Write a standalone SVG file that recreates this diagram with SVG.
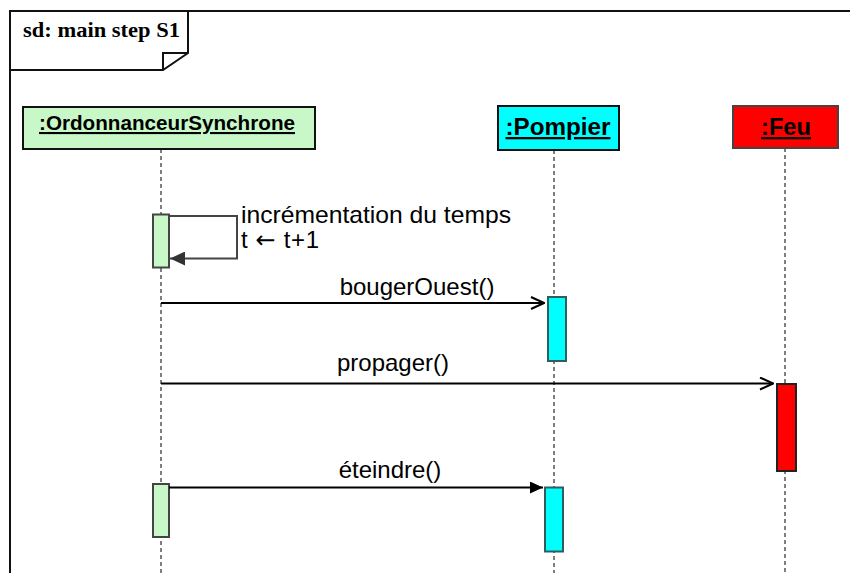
<svg xmlns="http://www.w3.org/2000/svg" width="850" height="573" viewBox="0 0 850 573">
<defs>
<style>
.frame{fill:none;stroke:#111;stroke-width:2}
.lbl{font-family:"Liberation Sans",Arial,sans-serif;font-weight:bold;text-decoration:underline;text-anchor:middle;fill:#000}
.msg{font-family:"Liberation Sans",Arial,sans-serif;font-size:24px;fill:#000}
.life{stroke:#555;stroke-width:1.5;stroke-dasharray:4 3;fill:none}
.act{stroke:#444;stroke-width:2}
.call{stroke:#000;stroke-width:2;fill:none}
</style>
<marker id="open" markerWidth="16" markerHeight="14" refX="15" refY="7" orient="auto" markerUnits="userSpaceOnUse">
<path d="M2,1 L15,7 L2,13" fill="none" stroke="#000" stroke-width="2"/>
</marker>
<marker id="filled" markerWidth="14" markerHeight="12" refX="13" refY="6" orient="auto" markerUnits="userSpaceOnUse">
<path d="M0,0 L13,6 L0,12 Z" fill="#000"/>
</marker>
<marker id="self" markerWidth="16" markerHeight="14" refX="15" refY="7" orient="auto" markerUnits="userSpaceOnUse">
<path d="M0,0 L15,7 L0,14 Z" fill="#333"/>
</marker>
</defs>
<rect width="850" height="573" fill="#fff"/>
<g id="frame">
<path class="frame" d="M10,573 L10,11 L851,11"/>
<path class="frame" d="M10,11 L188,11 L188,53 L163,70 L10,70"/>
<path class="frame" d="M163,70 L163,53 L188,53" stroke-width="1.5"/>
<text x="23" y="37" font-family="'Liberation Serif','Times New Roman',serif" font-weight="bold" font-size="22" textLength="157" lengthAdjust="spacingAndGlyphs">sd: main step S1</text>
</g>
<g id="lifelines">
<line class="life" x1="161" y1="149" x2="161" y2="573"/>
<line class="life" x1="554" y1="150" x2="554" y2="573"/>
<line class="life" x1="785" y1="148" x2="785" y2="573"/>
</g>
<g id="ordonnanceur">
<rect x="23" y="107" width="292" height="42" fill="#c8f8c8" stroke="#111" stroke-width="2"/>
<text class="lbl" x="167" y="130" font-size="21" textLength="256" lengthAdjust="spacingAndGlyphs">:OrdonnanceurSynchrone</text>
<rect class="act" x="153" y="214.5" width="16" height="53" fill="#c8f8c8"/>
<rect class="act" x="153" y="484" width="16" height="53" fill="#c8f8c8"/>
</g>
<g id="pompier">
<rect x="498" y="106" width="121" height="44" fill="#00ffff" stroke="#111" stroke-width="2"/>
<text class="lbl" x="558" y="135" font-size="23" textLength="105" lengthAdjust="spacingAndGlyphs">:Pompier</text>
<rect x="548" y="297" width="18" height="64" fill="#00ffff" stroke="#2e5e5e" stroke-width="2"/>
<rect x="545" y="487.5" width="18" height="64" fill="#00ffff" stroke="#2e5e5e" stroke-width="2"/>
</g>
<g id="feu">
<rect x="733" y="106" width="105" height="42" fill="#ff0000" stroke="#444" stroke-width="2"/>
<text class="lbl" x="786" y="135" font-size="23" textLength="50" lengthAdjust="spacingAndGlyphs">:Feu</text>
<rect x="777" y="384" width="19" height="87" fill="#ff0000" stroke="#222" stroke-width="2"/>
</g>
<g id="connectors">
<path d="M169,216 L237,216 L237,258.5 L170,258.5" fill="none" stroke="#444" stroke-width="2" marker-end="url(#self)"/>
<line class="call" x1="161" y1="303" x2="544" y2="303" marker-end="url(#open)"/>
<line class="call" x1="161" y1="383.5" x2="773" y2="383.5" marker-end="url(#open)"/>
<line class="call" x1="169" y1="487.5" x2="543" y2="487.5" marker-end="url(#filled)"/>
</g>
<g id="labels">
<text class="msg" x="241" y="223" textLength="270" lengthAdjust="spacingAndGlyphs">incrémentation du temps</text>
<text class="msg" x="241" y="248" textLength="78" lengthAdjust="spacing">t <tspan font-family="'DejaVu Sans',sans-serif" font-size="24">←</tspan> t+1</text>
<text class="msg" x="417" y="295" text-anchor="middle">bougerOuest()</text>
<text class="msg" x="393" y="371" text-anchor="middle">propager()</text>
<text class="msg" x="390" y="478" text-anchor="middle">éteindre()</text>
</g>
</svg>
